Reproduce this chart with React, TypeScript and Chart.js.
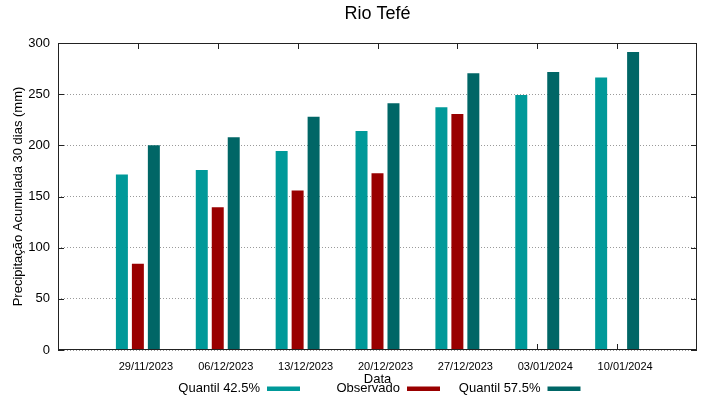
import React, { useEffect, useRef } from 'react';
import { Chart, registerables } from 'chart.js';

Chart.register(...registerables);

const chartTitle = 'Rio Tefé';
const yAxisTitle = 'Precipitação Acumulada 30 dias (mm)';
const xAxisTitle = 'Data';
const categories = ['29/11/2023', '06/12/2023', '13/12/2023', '20/12/2023', '27/12/2023', '03/01/2024', '10/01/2024'];
const quantil425 = [171.4, 176, 194.5, 213.9, 237.3, 249.3, 266.2];
const observado: (number | null)[] = [84.4, 139.6, 155.8, 172.7, 230.5, null, null];
const quantil575 = [200, 207.8, 227.9, 241.2, 270.4, 271.7, 291.1];
const seriesNames = ['Quantil 42.5%', 'Observado', 'Quantil 57.5%'];
const seriesColors = ['#009999', '#990000', '#006666'];
const yMin = 0;
const yMax = 300;
const yStep = 50;

const FONT = "'Liberation Sans', Arial, sans-serif";

// pad with an empty slot on each side (gnuplot histogram style)
const pad = <T,>(arr: T[]) => [null, ...arr, null];

const framePlugin = {
  id: 'frame',
  beforeDatasetsDraw(chart: any) {
    const { ctx, chartArea: a, scales } = chart;
    ctx.save();
    ctx.strokeStyle = '#222';
    ctx.lineWidth = 1;
    const tl = 6;
    scales.y.ticks.forEach((t: any) => {
      const py = Math.round(scales.y.getPixelForValue(t.value)) + 0.5;
      ctx.beginPath();
      ctx.moveTo(a.left, py); ctx.lineTo(a.left + tl, py);
      ctx.moveTo(a.right - tl, py); ctx.lineTo(a.right, py);
      ctx.stroke();
    });
    for (let i = 1; i <= categories.length; i++) {
      const px = Math.round(scales.x.getPixelForValue(i)) + 0.5;
      ctx.beginPath();
      ctx.moveTo(px, a.bottom); ctx.lineTo(px, a.bottom - tl);
      ctx.moveTo(px, a.top); ctx.lineTo(px, a.top + tl);
      ctx.stroke();
    }
    ctx.restore();
  },
  afterDraw(chart: any) {
    const { ctx, chartArea: a } = chart;
    ctx.save();
    ctx.strokeStyle = '#222';
    ctx.lineWidth = 1;
    ctx.strokeRect(Math.round(a.left) + 0.5, Math.round(a.top) + 0.5, Math.round(a.right - a.left) - 1, Math.round(a.bottom - a.top) - 1);
    // title centred over the plot area
    ctx.fillStyle = '#000';
    ctx.font = `18px ${FONT}`;
    ctx.textAlign = 'center';
    ctx.textBaseline = 'middle';
    ctx.fillText(chartTitle, (a.left + a.right) / 2, 14);
    // legend: text followed by sample, gnuplot style
    const textRight = [260, 400, 540.5];
    const ly = 388.5;
    ctx.font = `13px ${FONT}`;
    ctx.textAlign = 'right';
    seriesNames.forEach((name, i) => {
      ctx.fillStyle = '#000';
      ctx.fillText(name, textRight[i], ly);
      ctx.fillStyle = seriesColors[i];
      ctx.fillRect(textRight[i] + 7, ly - 2, 33, 4.5);
    });
    ctx.restore();
  },
};

export default function App() {
  const ref = useRef<HTMLCanvasElement | null>(null);
  useEffect(() => {
    if (!ref.current) return;
    Chart.defaults.font.family = FONT;
    const labels = ['', ...categories, ''];
    const values = [quantil425, observado, quantil575];
    const chart = new Chart(ref.current, {
      type: 'bar',
      data: {
        labels,
        datasets: seriesNames.map((name, i) => ({
          label: name,
          data: pad(values[i] as any[]),
          backgroundColor: seriesColors[i],
          borderWidth: 0,
          categoryPercentage: 0.6,
          barPercentage: 0.75,
        })),
      },
      options: {
        animation: false,
        responsive: false,
        layout: { padding: { left: 0, right: 22, top: 43, bottom: 0 } },
        plugins: {
          legend: { display: false },
          tooltip: { enabled: false },
          title: { display: false },
        },
        scales: {
          x: {
            type: 'category',
            offset: false,
            grid: { display: false, drawTicks: false },
            border: { display: false },
            ticks: {
              autoSkip: false,
              maxRotation: 0,
              minRotation: 0,
              color: '#000',
              font: { size: 11, family: FONT },
              padding: 10,
              labelOffset: 8,
            },
            title: {
              display: true,
              text: xAxisTitle,
              color: '#000',
              font: { size: 13, family: FONT },
              padding: { top: 0, bottom: 12 },
            },
            afterFit: (s: any) => { s.height = 49; },
          },
          y: {
            min: yMin,
            max: yMax,
            ticks: {
              stepSize: yStep,
              color: '#000',
              font: { size: 13, family: FONT },
              padding: 8,
            },
            grid: { drawTicks: false, color: '#9a9a9a', lineWidth: 1 },
            border: { display: false, dash: [1, 2] },
            title: {
              display: true,
              text: yAxisTitle,
              color: '#000',
              font: { size: 13, family: FONT },
              padding: { top: 10.5, bottom: 0 },
            },
            afterFit: (s: any) => { s.width = 58; },
          },
        },
      },
      plugins: [framePlugin],
    });
    return () => chart.destroy();
  }, []);
  return (
    <div style={{ position: 'fixed', left: 0, top: 0, width: 719, height: 399, background: '#fff' }}>
      <canvas ref={ref} width={719} height={399} />
    </div>
  );
}
